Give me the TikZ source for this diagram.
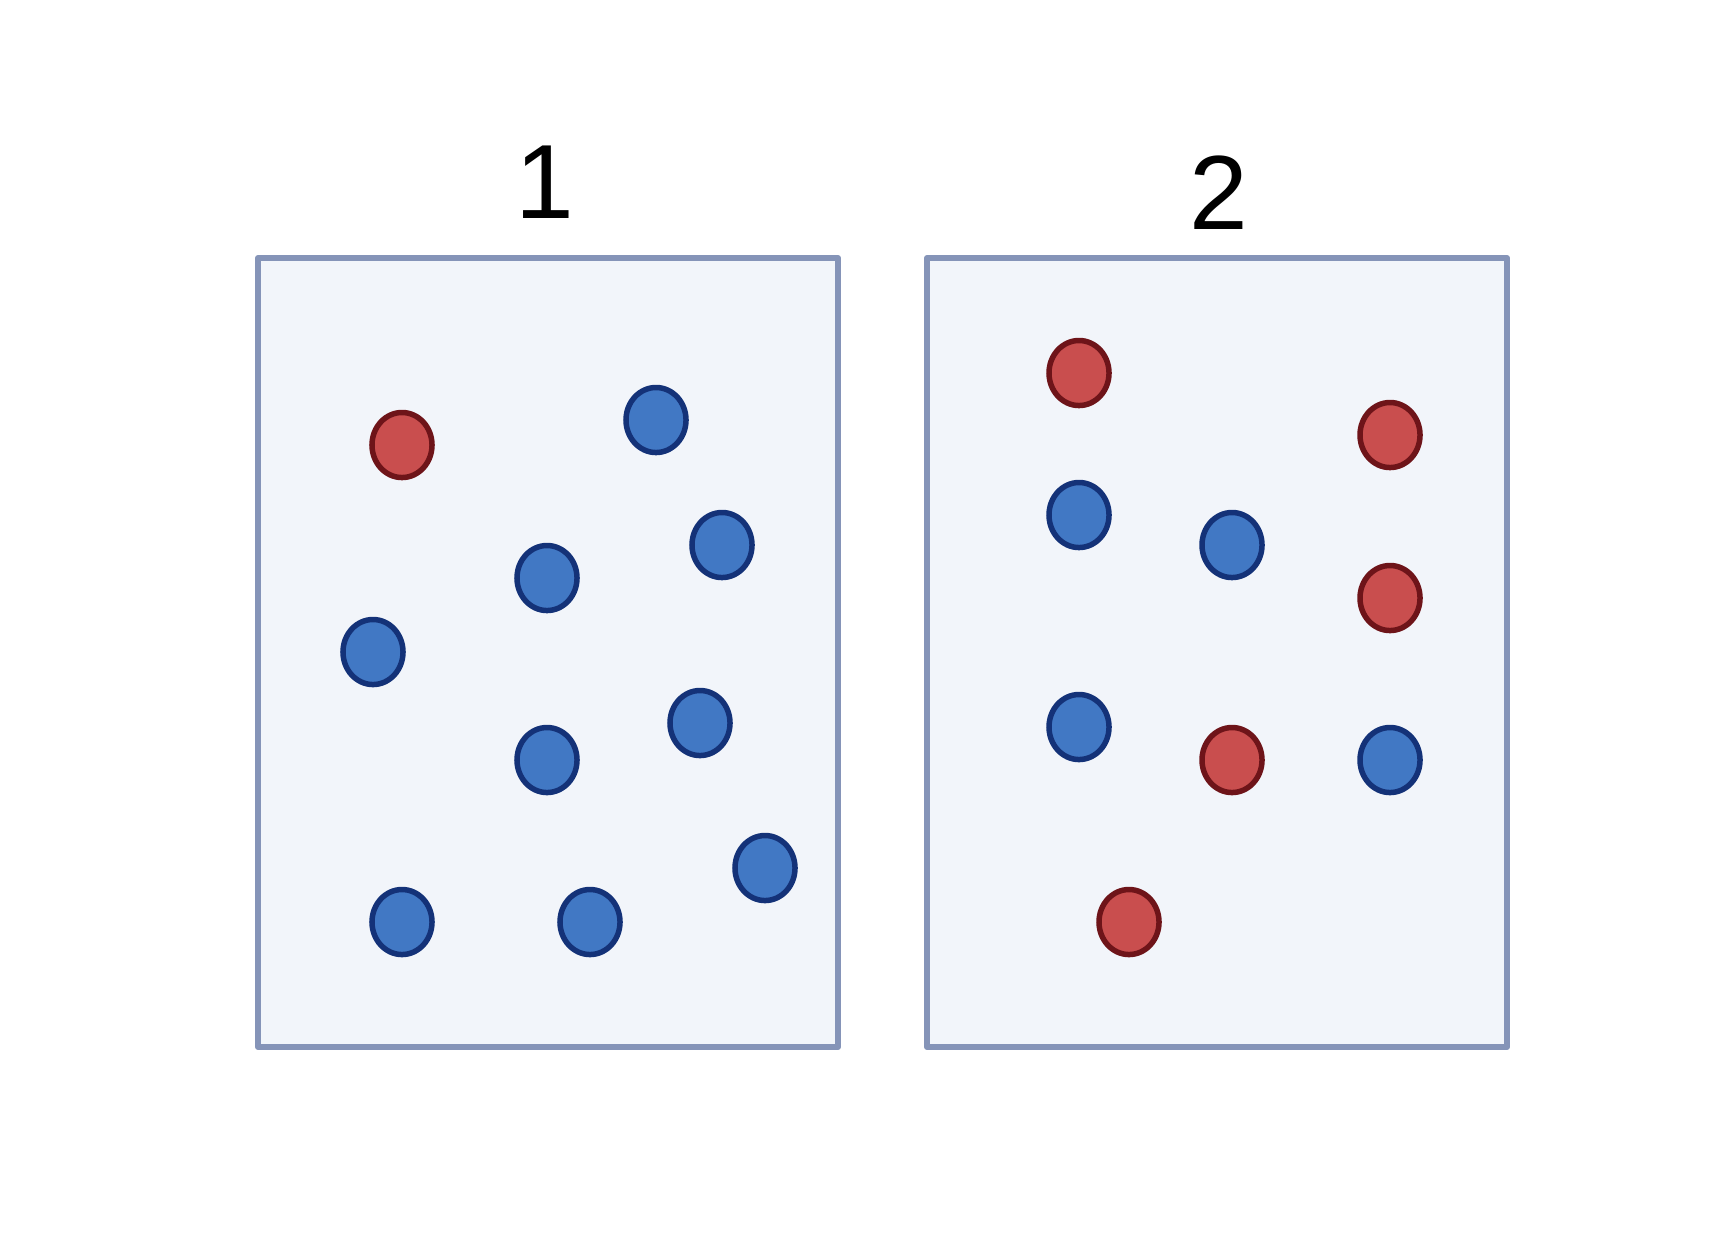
\documentclass[tikz,border=0pt]{standalone}
\usepackage{fontspec}
\setmainfont{Liberation Sans}
\usetikzlibrary{shapes.geometric}
\definecolor{boxfill}{RGB}{242,245,250}
\definecolor{boxline}{RGB}{133,148,184}
\definecolor{redfill}{RGB}{201,78,78}
\definecolor{redline}{RGB}{110,20,25}
\definecolor{bluefill}{RGB}{65,120,196}
\definecolor{blueline}{RGB}{20,50,120}
\begin{document}
\begin{tikzpicture}[x=0.01cm,y=-0.01cm,
    box/.style={draw=boxline,fill=boxfill,line width=0.06cm,line join=round},
    ball/.style={shape=ellipse,line width=0.055cm,minimum width=0.6cm,minimum height=0.65cm,inner sep=0pt},
    redball/.style={ball,draw=redline,fill=redfill},
    blueball/.style={ball,draw=blueline,fill=bluefill},
    title/.style={font=\fontsize{30}{36}\selectfont}]
    \useasboundingbox (0,0) rectangle (1719,1253);
    % 箱
    \draw[box] (258,258) rectangle (838,1047);
    \draw[box] (927,258) rectangle (1507,1047);
    % 番号
    \node[title] (t1) at (545,182) {1};
    \node[title] (t2) at (1219,193) {2};
    % 箱 1 の玉
    \node[redball]  (a1)  at (402,445) {};
    \node[blueball] (a2)  at (656,420) {};
    \node[blueball] (a3)  at (722,545) {};
    \node[blueball] (a4)  at (547,578) {};
    \node[blueball] (a5)  at (373,652) {};
    \node[blueball] (a6)  at (700,723) {};
    \node[blueball] (a7)  at (547,760) {};
    \node[blueball] (a8)  at (765,868) {};
    \node[blueball] (a9)  at (402,922) {};
    \node[blueball] (a10) at (590,922) {};
    % 箱 2 の玉
    \node[redball]  (b1) at (1079,373) {};
    \node[redball]  (b2) at (1390,435) {};
    \node[blueball] (b3) at (1079,515) {};
    \node[blueball] (b4) at (1232,545) {};
    \node[redball]  (b5) at (1390,598) {};
    \node[blueball] (b6) at (1079,727) {};
    \node[redball]  (b7) at (1232,760) {};
    \node[blueball] (b8) at (1390,760) {};
    \node[redball]  (b9) at (1129,922) {};
\end{tikzpicture}
\end{document}
